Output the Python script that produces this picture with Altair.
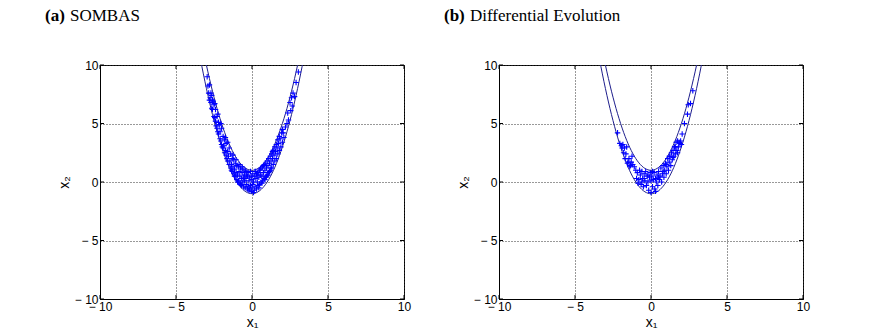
import altair as alt
import pandas as pd

# ---------------- data ----------------
titles_bold = ["(a)", "(b)"]
titles_rest = ["SOMBAS", "Differential Evolution"]
tick_values = [-10, -5, 0, 5, 10]

# boundary curves (x2 = x1^2 - 1 and x2 = x1^2 + 1), values typed out
curve_x = [-3.4, -3.2, -3.0, -2.8, -2.6, -2.4, -2.2, -2.0, -1.8, -1.6, -1.4, -1.2, -1.0,
           -0.8, -0.6, -0.4, -0.2, 0.0, 0.2, 0.4, 0.6, 0.8, 1.0, 1.2, 1.4, 1.6, 1.8,
           2.0, 2.2, 2.4, 2.6, 2.8, 3.0, 3.2, 3.4]
curve_upper = [12.56, 11.24, 10.0, 8.84, 7.76, 6.76, 5.84, 5.0, 4.24, 3.56, 2.96, 2.44, 2.0,
               1.64, 1.36, 1.16, 1.04, 1.0, 1.04, 1.16, 1.36, 1.64, 2.0, 2.44, 2.96, 3.56, 4.24,
               5.0, 5.84, 6.76, 7.76, 8.84, 10.0, 11.24, 12.56]
curve_lower = [10.56, 9.24, 8.0, 6.84, 5.76, 4.76, 3.84, 3.0, 2.24, 1.56, 0.96, 0.44, 0.0,
               -0.36, -0.64, -0.84, -0.96, -1.0, -0.96, -0.84, -0.64, -0.36, 0.0, 0.44, 0.96, 1.56, 2.24,
               3.0, 3.84, 4.76, 5.76, 6.84, 8.0, 9.24, 10.56]

# (a) SOMBAS solutions
a_x1 = [-2.95, -2.85, -2.8, -2.75, -2.7, -2.7, -2.65, -2.6, -2.6, -2.55, -2.5, -2.5, -2.45, -2.4,
        -2.4, -2.35, -2.3, -2.3, -2.25, -2.2, -2.2, -2.15, -2.1, -2.1, -2.05, -2.0, -2.0, -1.95,
        -1.9, -1.9, -1.85, -1.8, -1.8, -1.75, -1.7, -1.7, -1.65, -1.6, -1.6, -1.55, -1.5, -1.5,
        -1.45, -1.4, -1.4, -1.35, -1.3, -1.3, -1.25, -1.2, -1.2, -1.15, -1.1, -1.1, -1.05, -1.0,
        -1.0, -0.95, -0.9, -0.9, -0.85, -0.8, -0.8, -0.75, -0.7, -0.7, -0.65, -0.6, -0.6, -0.55,
        -0.5, -0.5, -0.45, -0.4, -0.4, -0.35, -0.3, -0.3, -0.25, -0.2, -0.2, -0.15, -0.1, -0.1,
        -0.05, 0.0, 0.0, 0.05, 0.1, 0.1, 0.15, 0.2, 0.2, 0.25, 0.3, 0.3, 0.35, 0.4, 0.4, 0.45,
        0.5, 0.5, 0.55, 0.6, 0.6, 0.65, 0.7, 0.7, 0.75, 0.8, 0.8, 0.85, 0.9, 0.9, 0.95, 1.0,
        1.0, 1.05, 1.1, 1.1, 1.15, 1.2, 1.2, 1.25, 1.3, 1.3, 1.35, 1.4, 1.4, 1.45, 1.5, 1.5,
        1.55, 1.6, 1.6, 1.65, 1.7, 1.7, 1.75, 1.8, 1.8, 1.85, 1.9, 1.95, 2.0, 2.0, 2.05, 2.1,
        2.2, 2.3, 2.35, 2.4, 2.5, 2.55, 2.6, 2.65, 2.7, 2.8, 2.9, 3.05,
        -1.35, -1.25, -1.15, -1.05, -0.95, -0.85, -0.75, -0.65, -0.55, -0.45, -0.35, -0.25,
        -0.15, -0.05, 0.05, 0.15, 0.25, 0.35, 0.45, 0.55, 0.65, 0.75, 0.85, 0.95, 1.05, 1.15,
        1.25, 1.35, -1.6, -1.75, -2.05, -2.25, -2.45, -2.65, -2.8, -2.9]
a_x2 = [9.0, 7.6, 8.3, 7.2, 7.6, 6.8, 7.4, 6.2, 7.0, 6.9, 5.6, 6.6, 5.5, 5.2,
        6.2, 4.8, 5.6, 4.6, 4.3, 4.1, 5.1, 4.9, 3.7, 4.3, 3.5, 3.2, 4.6, 3.0,
        3.9, 2.9, 3.1, 2.5, 3.6, 2.7, 2.3, 3.3, 2.0, 2.6, 1.8, 2.2, 1.5, 2.9,
        1.8, 1.2, 2.4, 1.5, 0.9, 2.0, 1.3, 0.7, 1.9, 1.1, 0.5, 1.6, 0.8, 0.2,
        1.4, 0.6, 1.3, 0.1, 0.9, -0.1, 0.5, 1.2, 0.3, -0.3, 0.8, 0.0, 1.1, -0.4,
        0.6, 0.1, -0.5, 0.9, 0.3, -0.2, 0.5, -0.6, 0.8, 0.1, -0.7, 0.4, -0.3, 0.9,
        -0.8, 0.2, -0.5, 0.7, -0.9, 0.0, 0.5, -0.4, 0.9, 0.3, -0.6, 0.7, 0.0, 0.8, -0.3, 0.4,
        1.0, -0.2, 0.6, 0.0, 1.2, 0.5, 1.3, 0.1, 0.8, 0.3, 1.5, 1.0, 0.4, 1.6, 1.2, 0.6,
        1.8, 1.4, 0.8, 2.0, 1.6, 1.0, 2.2, 1.8, 1.2, 2.4, 2.0, 1.5, 2.7, 2.3, 1.8, 3.0,
        2.6, 2.0, 3.2, 2.9, 2.4, 3.6, 3.3, 2.7, 3.9, 3.7, 3.0, 4.2, 3.4, 4.5, 4.2, 3.8,
        4.7, 5.0, 5.9, 5.3, 6.8, 6.1, 7.2, 6.5, 7.6, 7.3, 8.5, 9.4,
        1.0, 2.3, 0.5, 1.9, 0.0, 1.5, -0.2, 1.3, 0.4, 1.0, 0.6, -0.4,
        -0.6, 0.5, -0.2, -0.7, 0.9, 0.6, -0.5, 1.1, -0.1, 1.4, 0.2, 0.5, 0.6, 0.9,
        1.2, 2.6, 3.4, 3.8, 5.0, 5.8, 6.7, 6.3, 7.0, 8.2]

# (b) Differential Evolution solutions
b_x1 = [-2.2, -2.05, -1.95, -1.9, -1.85, -1.8, -1.75, -1.7, -1.65, -1.55, -1.5, -1.45, -1.35,
        -1.3, -1.2, -1.1, -1.0, -0.95, -0.9, -0.8, -0.75, -0.7, -0.65, -0.6, -0.55, -0.5,
        -0.45, -0.4, -0.35, -0.3, -0.25, -0.2, -0.15, -0.1, -0.05, 0.0, 0.0, 0.05, 0.1, 0.15,
        0.2, 0.25, 0.3, 0.35, 0.4, 0.45, 0.5, 0.55, 0.6, 0.65, 0.7, 0.75, 0.8, 0.85, 0.9,
        0.95, 1.0, 1.05, 1.1, 1.15, 1.2, 1.25, 1.3, 1.35, 1.4, 1.45, 1.5, 1.55, 1.6, 1.65,
        1.7, 1.75, 1.8, 1.85, 1.9, 1.95, 2.0, 2.05, 2.2, 2.4, 2.45, 2.6, 2.75,
        -0.85, -0.6, -0.45, -0.2, 0.1, 0.3, 0.5, 0.8, 1.0, 1.2, 1.45, 1.6, 1.75, -1.6,
        -1.25, -1.4]
b_x2 = [4.2, 3.3, 3.1, 2.9, 3.2, 2.5, 2.9, 2.0, 2.4, 1.6, 1.7, 2.0, 1.4,
        1.7, 1.5, 1.3, 1.0, 0.3, 0.8, 0.2, 1.0, 0.6, -0.2, 0.9, 0.3, -0.4,
        0.7, 0.1, 0.9, -0.3, 0.5, 0.0, -0.7, 0.4, 0.8, -0.9, 0.1, 0.5, -0.4, 0.2,
        0.8, -0.6, 0.3, 0.0, 0.6, -0.3, 0.9, 0.2, 0.5, 1.2, 0.0, 0.7, 1.4, 0.4, 1.0,
        1.6, 0.7, 1.3, 2.0, 1.0, 1.7, 2.2, 1.4, 2.5, 1.9, 2.7, 2.2, 3.0, 2.4, 3.4,
        2.7, 3.5, 3.0, 3.4, 3.3, 3.5, 3.2, 4.1, 5.0, 5.8, 6.6, 6.7, 7.8,
        -0.1, 0.0, 0.3, 0.6, 0.9, -0.8, 0.4, 0.9, 1.5, 2.2, 2.1, 3.0, 2.5, 3.0,
        2.2, 1.3]

BLUE = "#0000ff"
CURVE = "#1e1e8c"
PLUS = "M-1,0L1,0M0,-1L0,1"
W, H = 304, 234

curve_df = pd.DataFrame({
    "x1": curve_x + curve_x,
    "x2": curve_upper + curve_lower,
    "branch": ["upper"] * len(curve_x) + ["lower"] * len(curve_x),
})
ticks_df = pd.DataFrame({"x1": tick_values, "x2": tick_values})

label_expr = "datum.value < 0 ? '\u2212 ' + abs(datum.value) : datum.label"
SCALE = alt.Scale(domain=[-10, 10], nice=False)
X = alt.X("x1:Q", scale=SCALE,
          axis=alt.Axis(values=tick_values, labelExpr=label_expr, title="x\u2081"))
Y = alt.Y("x2:Q", scale=SCALE,
          axis=alt.Axis(values=tick_values, labelExpr=label_expr, title="x\u2082"))


def panel(px, py, tb, tr, rest_dx):
    pts = pd.DataFrame({"x1": px, "x2": py})
    curves = alt.Chart(curve_df).mark_line(
        color=CURVE, strokeWidth=1, clip=True, interpolate="monotone"
    ).encode(x=X, y=Y, detail="branch:N")
    points = alt.Chart(pts).mark_point(
        shape=PLUS, size=30, filled=False, color=BLUE, strokeWidth=1.1, opacity=1
    ).encode(x=X, y=Y)
    # inward tick marks on all four sides
    tk_b = alt.Chart(ticks_df).mark_rule(color="black", strokeWidth=1).encode(
        x=X, y=alt.value(H), y2=alt.value(H - 4))
    tk_t = alt.Chart(ticks_df).mark_rule(color="black", strokeWidth=1).encode(
        x=X, y=alt.value(0), y2=alt.value(4))
    tk_l = alt.Chart(ticks_df).mark_rule(color="black", strokeWidth=1).encode(
        y=Y, x=alt.value(0), x2=alt.value(4))
    tk_r = alt.Chart(ticks_df).mark_rule(color="black", strokeWidth=1).encode(
        y=Y, x=alt.value(W), x2=alt.value(W - 4))
    t1 = alt.Chart(alt.Data(values=[{"t": tb}])).mark_text(
        align="left", baseline="alphabetic", font="Liberation Serif", fontSize=17,
        fontWeight="bold", color="black"
    ).encode(x=alt.value(-55), y=alt.value(-44), text="t:N")
    t2 = alt.Chart(alt.Data(values=[{"t": tr}])).mark_text(
        align="left", baseline="alphabetic", font="Liberation Serif", fontSize=17,
        fontWeight="normal", color="black"
    ).encode(x=alt.value(-55 + rest_dx), y=alt.value(-44), text="t:N")
    return alt.layer(curves, points, tk_b, tk_t, tk_l, tk_r, t1, t2).properties(width=W, height=H)


pa = panel(a_x1, a_x2, titles_bold[0], titles_rest[0], 25)
pb = panel(b_x1, b_x2, titles_bold[1], titles_rest[1], 26)

chart = alt.hconcat(pa, pb, spacing=95, bounds="flush").properties(
    padding={"left": 44, "top": 6, "right": 5, "bottom": 5},
    background="white"
).configure_view(
    stroke="black", strokeWidth=1
).configure_axis(
    grid=True, gridDash=[1, 2], gridColor="#333333", gridWidth=1, gridOpacity=1,
    domain=True, domainColor="black", ticks=False,
    labelFont="Liberation Sans", labelFontSize=12, labelColor="black", labelPadding=2,
    labelFlush=False,
    titleFont="Liberation Sans", titleFontSize=14, titleFontWeight="normal",
    titleColor="black", titlePadding=3
)

chart.save("out.html", embed_options={"renderer": "svg", "actions": False})
